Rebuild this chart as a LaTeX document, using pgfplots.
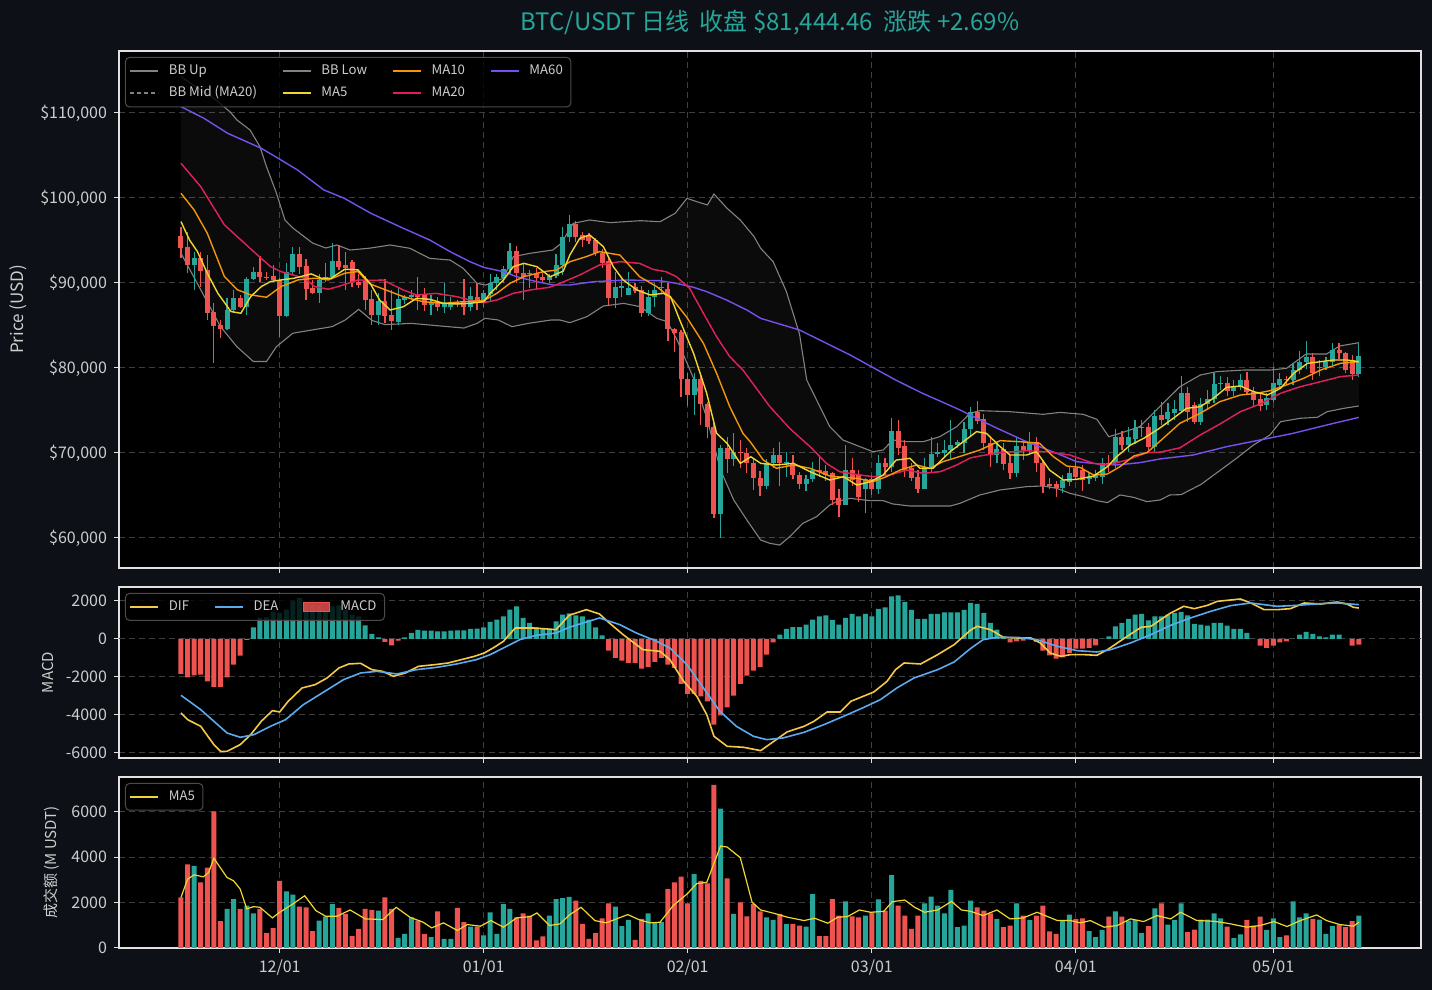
\documentclass[border=0pt]{standalone}
\usepackage{fontspec}
\setmainfont{Noto Sans CJK SC}
\usepackage{pgfplots}
\pgfplotsset{compat=1.18}
\usepackage{pgfplotstable}

\definecolor{bgc}{RGB}{13,17,23}
\definecolor{upc}{RGB}{38,166,154}
\definecolor{dnc}{RGB}{239,83,80}
\definecolor{gridc}{RGB}{62,62,62}
\definecolor{framec}{RGB}{225,225,225}
\definecolor{labc}{RGB}{205,205,205}
\definecolor{bbc}{RGB}{130,130,130}
\definecolor{ma5c}{RGB}{240,214,48}
\definecolor{ma10c}{RGB}{245,150,10}
\definecolor{ma20c}{RGB}{225,30,90}
\definecolor{ma60c}{RGB}{120,80,240}
\definecolor{difc}{RGB}{245,200,70}
\definecolor{deac}{RGB}{90,170,240}
\definecolor{legframe}{RGB}{75,75,75}
\definecolor{zeroc}{RGB}{110,110,110}

\pgfplotstableread{
d o h l c v m
0 95530 96630 92910 94160 2229 -1841
1 94280 96050 91150 92130 3688 -2017
2 92130 93690 89190 92910 3615 -1911
3 92910 93690 89580 91460 2886 -1876
4 91540 93300 85660 86520 3542 -2227
5 86640 87620 80560 84950 6023 -2525
6 85070 85660 83500 84560 1179 -2525
7 84560 88200 84480 86830 1719 -2017
8 86830 89190 86440 88200 2156 -1350
9 88200 88600 87030 87230 1719 -877
10 87230 90750 86250 90480 1865 -50
11 90480 91930 90360 91260 1529 614
12 91260 93180 90170 90750 1719 1105
13 90750 91340 90360 90700 653 1140
14 90830 92130 90170 90360 872 1420
15 90360 90560 83700 86130 2959 1368
16 86130 92320 86050 91260 2492 1544
17 91260 94280 91000 93420 2346 2017
18 93420 94280 91100 91930 1821 2158
19 92010 92790 88010 89270 1792 1842
20 89380 90360 88700 88870 741 1807
21 88870 91100 87620 90360 1208 1772
22 90360 92320 90170 90750 1383 1491
23 90750 94670 90560 92600 1937 1719
24 92600 94480 91540 91930 1763 1772
25 92130 93690 89190 91740 1500 1544
26 92440 92720 89580 90170 522 1281
27 90170 91000 89400 89800 843 1193
28 90360 90800 86840 88010 1719 719
29 88080 89170 85060 86230 1675 263
30 86230 88780 85060 87880 1646 88
31 87880 90430 85250 86120 2229 -158
32 86230 89170 84470 85530 1719 -333
33 85450 89570 85060 88080 450 -88
34 87990 88600 87500 88390 624 88
35 88310 89170 88000 88590 1354 316
36 88590 90670 86820 88310 1208 474
37 88590 89370 86660 87410 624 439
38 87410 88590 86270 87680 478 439
39 87610 88390 86660 87140 1616 404
40 87140 89960 86470 87680 405 404
41 87140 88390 86860 87800 405 439
42 87680 88000 87140 87530 1763 456
43 87800 90430 86270 87140 1135 456
44 87140 89570 86660 88470 945 526
45 88390 89960 86860 87610 945 544
46 87610 89170 87140 88780 551 614
47 88700 91060 87800 89960 1573 895
48 89960 91060 89170 90670 624 1018
49 90550 92000 89960 91610 1937 1193
50 91610 94750 91060 93760 1719 1544
51 93760 94360 89960 91210 1354 1719
52 91210 92390 88000 90740 1529 1105
53 91210 91500 89370 91000 1427 842
54 91060 91800 89170 90550 332 614
55 90670 91200 89960 90350 507 544
56 90350 91060 90000 90820 1427 544
57 90820 93370 90550 92120 2156 930
58 92120 96630 90940 95400 2200 1281
59 95370 98000 94780 96940 2250 1350
60 96940 97310 94880 95450 2083 1246
61 95650 96040 94270 95060 1062 1193
62 95650 95840 94580 94980 405 1017
63 95060 95250 93180 93570 653 614
64 93570 93960 91800 92390 1310 193
65 92630 92900 87400 88190 1967 -614
66 88190 91330 87090 89490 1821 -999
67 89450 90550 88390 89600 960 -1140
68 88580 91250 88580 89370 1237 -1263
69 89570 89960 88800 89100 362 -1263
70 89170 89600 85940 86510 1281 -1561
71 86510 89170 86120 88390 1529 -1473
72 88310 89960 87210 89170 1135 -1210
73 89370 90670 88780 89560 1135 -999
74 89250 89960 83220 84550 2594 -1350
75 84550 84750 81870 84150 2886 -1526
76 84270 84470 76610 78660 3148 -2368
77 78660 79460 75520 76820 1967 -2894
78 76820 79450 74520 78660 3250 -2894
79 78660 79200 73250 75720 2959 -3017
80 75720 76010 71820 73090 2842 -3280
81 73090 73480 62310 62780 7190 -4508
82 62780 70940 59960 70550 6139 -4017
83 70550 71920 67660 69250 3061 -3595
84 69250 72350 68490 70150 1500 -2982
85 70150 71530 68190 69960 2010 -2368
86 70040 70550 67680 68780 1397 -1929
87 68860 69250 65680 67020 1937 -1666
88 67020 67900 64970 66120 1616 -1473
89 66120 69250 65740 68780 1354 -824
90 68780 70530 68200 69760 1237 -175
91 69760 71330 66080 68780 1500 228
92 68780 70140 67200 68980 1062 526
93 68780 69760 66900 67410 1062 631
94 67410 67800 65820 66350 989 631
95 66350 67410 65530 66940 945 755
96 66940 68980 66570 68000 2375 1017
97 68000 69760 67200 67720 522 1193
98 67920 68590 66700 67410 522 1246
99 67610 67800 63870 64470 2156 1000
100 64660 65740 62430 63880 1427 755
101 63880 70920 63880 68000 2054 1105
102 68000 69370 66120 66820 1397 1316
103 67410 68000 64270 64860 1354 1193
104 65720 67000 62900 66900 1427 1316
105 66900 67410 65080 65720 1573 1193
106 65720 69800 65130 68780 2141 1579
107 68780 69370 67410 68310 1646 1667
108 68310 74100 67800 72620 3207 2245
109 72620 73870 69760 70550 1865 2298
110 70820 71530 67200 68000 1427 1947
111 68200 68780 66700 67020 843 1526
112 67210 68000 65330 65720 1427 1053
113 65720 69370 65720 68310 1967 1053
114 68310 71920 67800 69880 2258 1316
115 69880 71140 69560 70160 1865 1316
116 70040 71530 69370 70350 1529 1404
117 70350 73870 69180 70940 2565 1404
118 70940 71530 70550 71250 916 1404
119 71130 73600 69960 72780 989 1526
120 72780 75450 72000 74860 2083 1895
121 74860 76070 73400 73800 1792 1842
122 73960 74640 70350 71130 1646 1368
123 71210 72000 68390 69760 1529 842
124 69760 71000 68780 70430 1281 491
125 70430 71130 68000 68700 916 140
126 68780 69760 66900 67690 989 -175
127 67690 71920 67200 70820 1967 -123
128 70820 71530 69180 70350 1427 -88
129 70350 72470 69960 71330 1237 88
130 71330 71920 67800 68780 1427 -158
131 68780 69200 65330 66120 1865 -614
132 66350 67020 65720 66120 727 -859
133 66350 66740 64860 65840 624 -1034
134 65840 67410 65330 66820 1179 -964
135 66630 68390 66120 67610 1471 -737
136 68200 69370 66820 67210 1281 -509
137 68000 68590 65530 66820 1310 -509
138 66900 67610 66350 67130 741 -474
139 67020 68000 66740 67410 478 -333
140 67210 69370 66350 68860 799 0
141 68860 69760 67800 68590 1383 140
142 68780 72860 68200 71840 1616 667
143 71840 72560 70350 70940 1383 842
144 70940 73020 70150 71840 1208 1053
145 71600 73870 71000 72900 1237 1281
146 72900 73870 71920 73100 653 1316
147 73100 73500 70350 70740 960 982
148 70740 75110 70150 74350 1748 1193
149 74470 76030 73300 73880 1967 1193
150 73960 75850 73300 74860 1033 1281
151 74740 76230 73900 75130 1237 1368
152 74980 79000 74700 77020 1967 1421
153 77020 77800 73690 74860 697 1246
154 75650 76000 73400 73680 814 790
155 73680 76500 73300 75760 1252 755
156 75760 77410 75200 76310 1252 702
157 76310 79450 75900 78120 1529 842
158 78120 79060 77400 78270 1310 842
159 78200 78900 76700 77330 945 702
160 77330 78600 76700 77800 434 526
161 77800 79250 77400 78590 595 526
162 78590 79540 76800 77220 1237 316
163 77220 77800 75570 76240 989 0
164 76310 77000 74900 75530 1383 -351
165 75650 77020 75000 76430 799 -474
166 76230 80080 76000 78200 1310 -351
167 78000 79460 77600 78670 478 -175
168 78700 79000 78000 78590 551 -123
169 78590 80630 78000 79760 2054 0
170 79760 82000 79300 80740 1354 228
171 80740 83210 79930 81330 1529 368
172 81330 81720 78600 79370 1281 263
173 79960 80900 79000 80160 1252 140
174 80160 81330 79760 80740 624 88
175 80740 82900 80300 82120 960 228
176 82120 82900 81000 81720 1033 228
177 81720 81900 79370 79760 916 0
178 80940 81520 78600 79310 1179 -351
179 79310 82900 78990 81444 1427 -298
}\candles

\pgfplotsset{
  panel/.style={
    scale only axis, width=651pt, anchor=south west,
    xmin=-9.42, xmax=188.45,
    scaled ticks=false,
    axis background/.style={fill=black},
    axis line style={draw=framec, line width=0.6pt},
    xtick={15,46,77,105,136,166},
    grid=major,
    major grid style={draw=gridc, line width=0.5pt, dash pattern=on 3pt off 2pt},
    tick align=outside, xtick pos=left, ytick pos=left, major tick length=2.5pt,
    tick style={draw=framec, line width=0.5pt},
    ticklabel style={font=\fontsize{8}{9}\selectfont, text=labc},
    legend cell align=left,
    legend image code/.code={\draw[line width=0.7pt,##1] (0pt,0pt) -- (14pt,0pt);},
    legend style={at={(axis description cs:0,1)}, anchor=north west,
      xshift=3pt, yshift=-3pt, fill=black, fill opacity=0.8, text opacity=1,
      draw=legframe, line width=0.5pt, rounded corners=2pt, text=labc,
      font=\fontsize{6.6}{7.5}\selectfont, inner xsep=2pt, inner ysep=1.5pt,
      row sep=0.5pt,
      /tikz/every even column/.append style={column sep=10.5pt},
      /tikz/every odd column/.append style={column sep=3pt}},
  },
  nolabx/.style={xticklabel style={text opacity=0}},
  upsel/.style={restrict expr to domain={\thisrow{c}-\thisrow{o}}{0:100000}},
  dnsel/.style={restrict expr to domain={\thisrow{c}-\thisrow{o}}{-100000:-0.001}},
}

\begin{document}
\begin{tikzpicture}
\fill[bgc] (0pt,0pt) rectangle (716pt,495pt);
\node[text=upc, font=\fontsize{12}{14}\selectfont, anchor=center] at (385pt,483.5pt)
  {BTC/USDT 日线\ \ 收盘 \$81,444.46\ \ 涨跌 +2.69\%};

% ---------------- price panel ----------------
\begin{axis}[panel, nolabx, at={(59.5pt,211pt)}, height=258.5pt,
  ymin=56471, ymax=117294,
  ytick={60000,70000,80000,90000,100000,110000},
  yticklabels={{\$60,000},{\$70,000},{\$80,000},{\$90,000},{\$100,000},{\$110,000}},
  ylabel={Price (USD)},
  ylabel style={font=\fontsize{8.5}{10}\selectfont, text=labc, at={(axis description cs:-0.0776,0.5)}, anchor=center},
  legend columns=4]

% Bollinger band area: upper band forward, lower band backward
\addplot[fill=white, fill opacity=0.045, draw=none, forget plot] coordinates {
(0,114300) (2,113200) (4,112300) (5.7,111300) (7.5,110100) (8.5,109180) (10.5,108000) (12,106040) (13,103680) (14.5,100590) (15.8,97410) (17,96470) (20,94700) (22,94120) (23.7,94470) (25.7,93880) (28.7,94100) (31.8,94470) (34.8,94080) (37.8,92900) (40.9,92700) (42.9,91720) (45,89960) (46.3,89760) (49,90550) (50.5,93100) (53,93490) (56.5,93880) (57.8,94670) (59.6,97020) (62.1,97410) (65.2,97100) (69.8,97330) (72.8,97210) (75.1,98200) (76.9,99960) (78.4,99570) (80,99180) (81,100470) (83,98780) (85,97410) (87.1,95450) (88.1,94080) (90,92500) (92,89000) (94,84000) (95.1,78590) (97.1,75450) (98.6,73100) (100.6,71530) (103.2,70740) (105.2,70150) (106.7,70350) (108.2,71530) (110.3,71330) (112.8,71330) (115.3,71920) (117.9,73100) (119.9,74670) (121.4,74980) (126,74860) (131,74550) (133.6,74780) (137.1,74550) (139.2,73960) (141,71920) (142.7,72310) (145.7,73100) (148.8,75500) (151.8,77800) (154.9,79170) (157.4,79570) (161.5,79760) (165.5,79760) (168,79960) (171,81650) (174.1,81650) (176.1,82590) (179,82980)
(179,75530) (176.7,75250) (174.2,74860) (172.7,74200) (170.1,74080) (167.1,73680) (165.5,72120) (163,70940) (160.4,69370) (158,68000) (155,66300) (152,65100) (150.3,65060) (148.8,64470) (146.8,64270) (144.8,64780) (142.7,65060) (140.8,64160) (139.2,64390) (137.2,64860) (135.1,65250) (133.1,65840) (131,66120) (128.5,66040) (124.5,65650) (121.4,65060) (118.4,64080) (116.9,63760) (113.8,63760) (110.8,63760) (108.2,64000) (106.7,64390) (104.7,64390) (101.7,64660) (99.6,64270) (98.6,63880) (96.6,62510) (94.5,61720) (92.5,60150) (91,59170) (89.5,59370) (88.1,59760) (86,62110) (84,64470) (82,67990) (80,73880) (78,78590) (75.4,83290) (73.9,85450) (72.3,85840) (69.8,87210) (67.3,87600) (64.2,87290) (61.7,86040) (59.1,85330) (57.6,85640) (56.3,85650) (52.8,85250) (50.3,84860) (48.2,85650) (46.2,85840) (45,85250) (43,84700) (40,84900) (35,85250) (31,85100) (29,85600) (27,86900) (25,85660) (23,84870) (20,84480) (17,84090) (14.5,82500) (13,80760) (11,80760) (8.5,82500) (6,84870) (3,89200) (0,93500)} -- cycle;

\addplot[bbc, line width=0.55pt, forget plot] coordinates {
(0,114300) (2,113200) (4,112300) (5.7,111300) (7.5,110100) (8.5,109180) (10.5,108000) (12,106040) (13,103680) (14.5,100590) (15.8,97410) (17,96470) (20,94700) (22,94120) (23.7,94470) (25.7,93880) (28.7,94100) (31.8,94470) (34.8,94080) (37.8,92900) (40.9,92700) (42.9,91720) (45,89960) (46.3,89760) (49,90550) (50.5,93100) (53,93490) (56.5,93880) (57.8,94670) (59.6,97020) (62.1,97410) (65.2,97100) (69.8,97330) (72.8,97210) (75.1,98200) (76.9,99960) (78.4,99570) (80,99180) (81,100470) (83,98780) (85,97410) (87.1,95450) (88.1,94080) (90,92500) (92,89000) (94,84000) (95.1,78590) (97.1,75450) (98.6,73100) (100.6,71530) (103.2,70740) (105.2,70150) (106.7,70350) (108.2,71530) (110.3,71330) (112.8,71330) (115.3,71920) (117.9,73100) (119.9,74670) (121.4,74980) (126,74860) (131,74550) (133.6,74780) (137.1,74550) (139.2,73960) (141,71920) (142.7,72310) (145.7,73100) (148.8,75500) (151.8,77800) (154.9,79170) (157.4,79570) (161.5,79760) (165.5,79760) (168,79960) (171,81650) (174.1,81650) (176.1,82590) (179,82980)};
\addplot[bbc, line width=0.55pt, forget plot] coordinates {
(0,93500) (3,89200) (6,84870) (8.5,82500) (11,80760) (13,80760) (14.5,82500) (17,84090) (20,84480) (23,84870) (25,85660) (27,86900) (29,85600) (31,85100) (35,85250) (40,84900) (43,84700) (45,85250) (46.2,85840) (48.2,85650) (50.3,84860) (52.8,85250) (56.3,85650) (57.6,85640) (59.1,85330) (61.7,86040) (64.2,87290) (67.3,87600) (69.8,87210) (72.3,85840) (73.9,85450) (75.4,83290) (78,78590) (80,73880) (82,67990) (84,64470) (86,62110) (88.1,59760) (89.5,59370) (91,59170) (92.5,60150) (94.5,61720) (96.6,62510) (98.6,63880) (99.6,64270) (101.7,64660) (104.7,64390) (106.7,64390) (108.2,64000) (110.8,63760) (113.8,63760) (116.9,63760) (118.4,64080) (121.4,65060) (124.5,65650) (128.5,66040) (131,66120) (133.1,65840) (135.1,65250) (137.2,64860) (139.2,64390) (140.8,64160) (142.7,65060) (144.8,64780) (146.8,64270) (148.8,64470) (150.3,65060) (152,65100) (155,66300) (158,68000) (160.4,69370) (163,70940) (165.5,72120) (167.1,73680) (170.1,74080) (172.7,74200) (174.2,74860) (176.7,75250) (179,75530)};

% wicks (low -> high)
\addplot[draw=upc, line width=0.6pt, forget plot, upsel,
  quiver={u=0, v=\thisrow{h}-\thisrow{l}}] table[x=d, y=l] {\candles};
\addplot[draw=dnc, line width=0.6pt, forget plot, dnsel,
  quiver={u=0, v=\thisrow{h}-\thisrow{l}}] table[x=d, y=l] {\candles};
% bodies (open -> close)
\addplot[draw=upc, line width=2.5pt, forget plot, upsel,
  quiver={u=0, v=\thisrow{c}-\thisrow{o}}] table[x=d, y=o] {\candles};
\addplot[draw=dnc, line width=2.5pt, forget plot, dnsel,
  quiver={u=0, v=\thisrow{c}-\thisrow{o}}] table[x=d, y=o] {\candles};

% MA60
\addplot[ma60c, line width=0.7pt, forget plot] coordinates {
(0,110750) (3.5,109370) (7.1,107610) (12.2,105850) (15.2,104470) (17.7,103300) (21.7,100950) (24.8,99970) (28.8,98220) (33.8,96430) (37.8,95060) (40.9,93690) (43.9,92510) (46,91840) (49,91330) (51,90740) (54.1,90150) (56.6,89760) (59.1,89760) (62.7,90150) (67.7,90350) (72.8,90270) (75.3,89960) (77.9,89490) (79.9,88980) (82.9,88000) (86,86820) (88.1,85840) (94,84470) (101.7,81530) (108.6,78590) (112.7,77020) (116.7,75650) (118.4,75060) (123.5,73100) (128.5,71330) (133.1,69960) (136.1,68980) (139.6,68700) (142.2,68590) (145.7,68860) (148.8,69300) (153.8,69760) (158.9,70740) (164,71530) (169,72310) (174.1,73290) (179,74190)};
% BB mid dashed
\addplot[bbc, line width=0.4pt, dash pattern=on 2pt off 1.5pt, forget plot] coordinates {
(0,104080) (3,101340) (6.6,96830) (9.1,95070) (11.6,93300) (13.6,91930) (15.2,91340) (18.8,90560) (20.3,89580) (22.4,89270) (23.9,89580) (26.9,90360) (29,90300) (30.7,90350) (33.8,89170) (35.8,88590) (38.8,88780) (41.9,88390) (43.9,88000) (46,87680) (48,88000) (50.5,88780) (53,89170) (56,89490) (57.6,89960) (60.6,90940) (63.6,92120) (66.7,92510) (69.7,92310) (71.7,91610) (73.7,91330) (75.3,90740) (77.3,89370) (79.4,86430) (81.4,83680) (83.4,81330) (85.4,79760) (88,77020) (89.5,75450) (92.5,72900) (95.6,70740) (98.1,68780) (100.1,67800) (103.2,67410) (105.2,67210) (107.7,67410) (110.3,68000) (112.8,67610) (115.4,67800) (117.9,68590) (119.9,69400) (121.4,69650) (124.5,70040) (128.5,70270) (131.5,70150) (135.1,69760) (138.7,68780) (140.8,68590) (143.8,69180) (146.8,70040) (148.8,70100) (151.8,70600) (154.9,72120) (157.9,73410) (161,74860) (164,75760) (167.1,77020) (170.1,77800) (173.2,78390) (176.2,78980) (179,79180)};
% MA20
\addplot[ma20c, line width=0.7pt, forget plot] coordinates {
(0,104080) (3,101340) (6.6,96830) (9.1,95070) (11.6,93300) (13.6,91930) (15.2,91340) (18.8,90560) (20.3,89580) (22.4,89270) (23.9,89580) (26.9,90360) (29,90300) (30.7,90350) (33.8,89170) (35.8,88590) (38.8,88780) (41.9,88390) (43.9,88000) (46,87680) (48,88000) (50.5,88780) (53,89170) (56,89490) (57.6,89960) (60.6,90940) (63.6,92120) (66.7,92510) (69.7,92310) (71.7,91610) (73.7,91330) (75.3,90740) (77.3,89370) (79.4,86430) (81.4,83680) (83.4,81330) (85.4,79760) (88,77020) (89.5,75450) (92.5,72900) (95.6,70740) (98.1,68780) (100.1,67800) (103.2,67410) (105.2,67210) (107.7,67410) (110.3,68000) (112.8,67610) (115.4,67800) (117.9,68590) (119.9,69400) (121.4,69650) (124.5,70040) (128.5,70270) (131.5,70150) (135.1,69760) (138.7,68780) (140.8,68590) (143.8,69180) (146.8,70040) (148.8,70100) (151.8,70600) (154.9,72120) (157.9,73410) (161,74860) (164,75760) (167.1,77020) (170.1,77800) (173.2,78390) (176.2,78980) (179,79180)};
% MA10
\addplot[ma10c, line width=0.7pt, forget plot] coordinates {
(0,100550) (2,98590) (4,95850) (6.6,90750) (8.6,89190) (10.6,88600) (13,88320) (15.2,89580) (17.8,90360) (20.3,90560) (22.4,90360) (24.9,91150) (26.9,91340) (28.7,89900) (31.8,88980) (33.8,88390) (36.8,87800) (39.9,87610) (42.9,87800) (46,87920) (48,88780) (50,89960) (52.1,90740) (55.1,91330) (57.1,91530) (59.1,92500) (61.6,93100) (63.6,93690) (66.7,93290) (69.7,90740) (72.3,89570) (74.8,88000) (76.8,86040) (79.4,82900) (81.4,79370) (83.4,75450) (85.4,72310) (86.5,71330) (88.5,69170) (90.5,68200) (93.1,68590) (95.6,68200) (98.6,67290) (100.7,67130) (102.7,67020) (105.2,66630) (107.2,67210) (109.3,68000) (111.8,68590) (113.8,68200) (115.8,68980) (118,69500) (121.4,70350) (124.5,71450) (127.5,71330) (130.5,71140) (132.6,69560) (134.6,68470) (136.6,68310) (138.7,67410) (140.8,67530) (142.7,68390) (144.8,69650) (146.8,70040) (148.8,71400) (151.8,73490) (154.9,74670) (157.9,76040) (161,76820) (163.5,77020) (165.5,77330) (168,78000) (170.6,78780) (173.2,79760) (176.2,80550) (179,80740)};
% MA5
\addplot[ma5c, line width=0.7pt, forget plot] coordinates {
(0,97220) (1.3,95060) (2.5,93690) (4,91150) (5.6,88790) (7.6,86640) (9.1,86440) (10.6,88400) (12.2,89580) (13.6,90170) (15.2,90360) (17.2,90560) (19.8,91070) (21.3,90560) (22.8,90560) (24.9,91620) (26.9,91540) (28.8,89900) (30.2,87990) (31.8,86820) (33.8,87210) (35.8,88200) (37.8,88080) (39.9,87610) (41.9,87530) (43.9,87610) (46,87800) (47,88780) (49,90350) (50.5,91920) (52.1,92310) (54.1,91920) (56.1,90740) (58.1,91400) (59.1,93300) (60.6,95250) (62.1,95650) (64.2,94270) (65.7,91920) (67.2,90350) (69.3,89170) (71.3,88590) (73.3,88780) (74.4,88390) (75.8,85640) (77.9,81720) (79.9,77020) (81.4,72310) (83,71130) (85,68780) (86.6,69560) (88.1,68780) (90.5,68590) (93.1,68780) (95.6,67800) (98.6,66820) (100.7,67210) (102.7,66230) (104.8,66630) (106.7,67410) (108.7,69170) (110.8,69370) (112.3,68200) (114.3,68200) (116.9,70160) (118.9,71330) (120.9,72510) (122.4,72310) (124.5,70740) (126,69760) (128.5,69760) (130,70160) (132,67990) (134.1,66820) (136.1,66900) (138.7,67290) (140.8,68390) (142.2,69560) (144.3,70940) (146.3,71720) (148.5,72800) (150.8,74080) (152.8,75250) (154.9,75450) (156.9,76430) (158.9,77720) (161,77880) (163,77220) (165.1,76820) (167.1,77610) (169.1,79370) (171.2,80550) (173.2,80740) (175.2,80940) (177.2,80940) (179,80740)};

\addlegendimage{bbc, line width=0.55pt}\addlegendentry{BB Up}
\addlegendimage{bbc, line width=0.55pt}\addlegendentry{BB Low}
\addlegendimage{ma10c}\addlegendentry{MA10}
\addlegendimage{ma60c}\addlegendentry{MA60}
\addlegendimage{bbc, line width=0.4pt, dash pattern=on 2pt off 1.5pt}\addlegendentry{BB Mid (MA20)}
\addlegendimage{ma5c}\addlegendentry{MA5}
\addlegendimage{ma20c}\addlegendentry{MA20}
\end{axis}

% ---------------- MACD panel ----------------
\begin{axis}[panel, nolabx, at={(59.5pt,116pt)}, height=85.5pt,
  ymin=-6263, ymax=2737,
  ytick={-6000,-4000,-2000,0,2000},
  yticklabels={-6000,-4000,-2000,0,2000},
  extra y ticks={0}, extra y tick labels={},
  extra y tick style={grid style={solid, draw=zeroc, line width=0.6pt}, major tick length=0pt},
  ylabel={MACD},
  ylabel style={font=\fontsize{7.5}{9}\selectfont, text=labc, at={(axis description cs:-0.0545,0.5)}, anchor=center},
  legend columns=3]
\addplot[ybar, bar width=2.5pt, bar shift=0pt, fill=upc, draw=none, forget plot,
  restrict expr to domain={\thisrow{m}}{0:100000}] table[x=d, y=m] {\candles};
\addplot[ybar, bar width=2.5pt, bar shift=0pt, fill=dnc, draw=none, forget plot,
  restrict expr to domain={\thisrow{m}}{-100000:-0.001}] table[x=d, y=m] {\candles};
\addplot[difc, line width=0.8pt, forget plot] coordinates {
(0,-3893) (1,-4244) (3,-4595) (5,-5560) (6,-5911) (7,-5911) (9,-5560) (10.6,-5034) (12.2,-4332) (13.9,-3770) (15,-3841) (16.3,-3279) (18.4,-2578) (20.4,-2402) (22.2,-2052) (24,-1526) (25.5,-1315) (27.3,-1280) (29,-1613) (30.6,-1701) (32.3,-1964) (34.1,-1789) (36.1,-1438) (38.6,-1350) (40.6,-1263) (42.6,-1087) (44.6,-912) (46.1,-736) (47.6,-438) (49,-123) (50.8,579) (53.6,579) (57,491) (59,1250) (61.6,1544) (63.6,1316) (65.1,842) (67.2,228) (70.2,-561) (72.8,-649) (74.3,-1087) (76.4,-2227) (78.4,-3017) (79.9,-3981) (81,-5121) (83,-5648) (85.5,-5700) (88.1,-5876) (90.1,-5385) (92.1,-4893) (94.7,-4595) (96.2,-4332) (98.2,-3841) (100.2,-3841) (101.8,-3279) (104.3,-2929) (105.3,-2789) (107.3,-2227) (108.6,-1613) (109.9,-1263) (112.4,-1315) (115,-824) (117.5,-298) (120,470) (121,667) (123,491) (125,88) (127.1,53) (129.1,53) (130.6,-210) (132.1,-737) (133.7,-912) (135.2,-824) (137.2,-824) (139.2,-859) (140.8,-561) (142.3,-210) (143.8,140) (145.9,614) (147.4,667) (148.9,1017) (150.4,1368) (152.4,1719) (154,1596) (156,1772) (157.5,1982) (159.5,2052) (161,2105) (162.6,1895) (164.6,1544) (166.6,1544) (168.6,1596) (170.7,1895) (173.2,1842) (175.7,1947) (177.2,1842) (178.2,1667) (179,1631)};
\addplot[deac, line width=0.8pt, forget plot] coordinates {
(0,-2964) (3,-3718) (5,-4332) (7,-4946) (9,-5174) (11.1,-5034) (13.6,-4595) (15.9,-4244) (18.6,-3455) (21.7,-2789) (24.7,-2140) (27.3,-1789) (29.8,-1701) (32.8,-1841) (35.8,-1613) (38.9,-1491) (41.9,-1315) (44.9,-1087) (47,-824) (49,-474) (51.5,-35) (54,193) (57,316) (59,614) (63.6,1105) (66.7,754) (69.2,316) (72.3,-123) (74.3,-474) (76.9,-1350) (79.4,-2578) (81.9,-3806) (84.4,-4595) (87,-5121) (89,-5297) (91.5,-5209) (94.7,-4911) (97.7,-4508) (100.7,-4069) (103.8,-3595) (106.3,-3192) (108.8,-2578) (111.4,-2052) (115,-1613) (117.5,-1210) (120,-500) (121.9,-35) (124,88) (127.1,88) (130.1,-35) (133.2,-386) (136.2,-614) (139.2,-684) (141.3,-561) (144.3,-210) (147.4,228) (150.4,719) (153.4,1105) (156.5,1456) (159.5,1754) (162.6,1895) (164.6,1807) (166.6,1719) (169.7,1772) (173.2,1860) (175.7,1895) (179,1807)};
\addlegendimage{difc, line width=0.8pt}\addlegendentry{DIF}
\addlegendimage{deac, line width=0.8pt}\addlegendentry{DEA}
\addlegendimage{legend image code/.code={\fill[dnc, sharp corners] (0pt,-2.3pt) rectangle (13pt,2.3pt);}}\addlegendentry{MACD}
\end{axis}

% ---------------- volume panel ----------------
\begin{axis}[panel, at={(59.5pt,21pt)}, height=85.5pt,
  ymin=0, ymax=7532,
  ytick={0,2000,4000,6000},
  yticklabels={0,2000,4000,6000},
  xticklabels={12/01,01/01,02/01,03/01,04/01,05/01},
  ylabel={成交额 (M USDT)},
  ylabel style={font=\fontsize{7.5}{9}\selectfont, text=labc, at={(axis description cs:-0.0515,0.5)}, anchor=center},
  legend columns=1]
\addplot[ybar, bar width=2.5pt, bar shift=0pt, fill=upc, draw=none, forget plot, upsel] table[x=d, y=v] {\candles};
\addplot[ybar, bar width=2.5pt, bar shift=0pt, fill=dnc, draw=none, forget plot, dnsel] table[x=d, y=v] {\candles};
\addplot[ma5c, line width=0.6pt, forget plot] coordinates {
(0,2229) (1,3032) (2,3221) (3.4,3134) (4.2,3323) (5,3951) (7,3105) (8,2959) (9,2594) (10,1719) (11,1821) (12,1792) (13.9,1325) (15,1573) (17,1937) (18.8,2302) (20.5,1646) (22,1397) (23.7,1397) (25.7,1675) (28,1281) (30.7,1252) (32.7,1792) (34.8,1354) (36.8,1135) (38.1,887) (39.9,1106) (42,770) (43.5,1033) (45.5,960) (47.1,1208) (49,916) (51,1325) (53.1,1383) (54.1,1544) (56,989) (57.6,1062) (59,1450) (60.8,1792) (62.9,1208) (64.6,1106) (67.9,1471) (69.7,1237) (71.3,1106) (72.8,1135) (74.8,1865) (76.9,2375) (78.4,2842) (79.9,2886) (82,4491) (83,4446) (85,3980) (86.8,2010) (88.1,1675) (90.1,1529) (92.2,1354) (94.7,1208) (96.3,1310) (98.3,1091) (99.8,1354) (101.3,1383) (103.1,1675) (104.8,1573) (106.8,1616) (108.1,2039) (110,2112) (111.5,1792) (113,1573) (115,1675) (117.1,2054) (118.6,1675) (120,1616) (121.9,1427) (124,1675) (126,1281) (128,1325) (130.1,1573) (133.2,1208) (135.2,1208) (136.7,1106) (138.2,1208) (140.3,916) (142.3,989) (144.3,1281) (146.3,1164) (148.3,1427) (150.4,1281) (151.9,1573) (154.4,1208) (156.9,1179) (159,1091) (162,916) (164,989) (166.1,1164) (168.1,945) (170.1,1208) (172.6,1456) (174.1,1208) (176.1,1033) (178.2,960) (179,1135)};
\addlegendimage{ma5c, line width=0.6pt}\addlegendentry{MA5}
\end{axis}
\end{tikzpicture}
\end{document}
